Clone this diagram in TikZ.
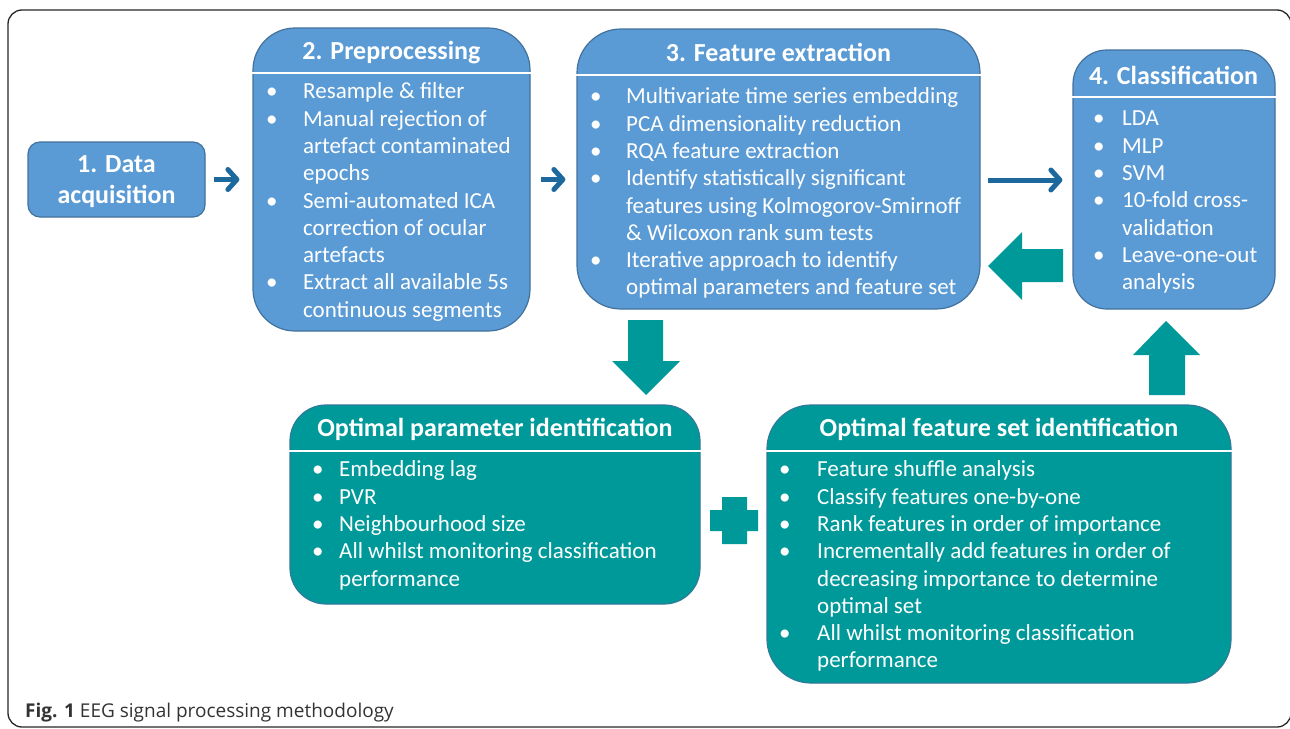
\documentclass[tikz,border=0pt]{standalone}
\usepackage{fontspec}
\setmainfont{Carlito}
\newfontfamily\capfont{Open Sans}
\usetikzlibrary{arrows.meta,calc}
\definecolor{boxblue}{HTML}{5B9BD5}
\definecolor{boxblueedge}{HTML}{41719C}
\definecolor{tealbox}{HTML}{009999}
\definecolor{tealedge}{HTML}{2F7A9A}
\definecolor{arrowblue}{HTML}{1D699E}
\newcommand\bodyfont{\fontsize{23}{27.3}\selectfont}
\newcommand\titlefont{\bfseries\fontsize{26}{31}\selectfont}
\begin{document}
\begin{tikzpicture}[x=1pt,y=-1pt,
  bluebox/.style={draw=boxblueedge,fill=boxblue,line width=1.2pt,inner sep=0pt},
  tealbox/.style={draw=tealedge,fill=tealbox,line width=1.2pt,inner sep=0pt},
  hline/.style={draw=white,line width=1.6pt},
  titletext/.style={text=white,font=\titlefont,inner sep=0pt,anchor=base},
  bodytext/.style={text=white,font=\bodyfont,inner sep=0pt,anchor=north west,align=left},
  smallarrow/.style={draw=arrowblue,line width=5pt,-{Straight Barb[length=9pt,width=20pt,line cap=round,line join=round]}},
  blockarrow/.style={fill=tealbox,draw=none}]
\useasboundingbox (0,0) rectangle (1290,728);
\draw[rounded corners=14pt,line width=1.3pt,black!85] (8,10) rectangle (1291,727);

% boxes
\node[bluebox,rounded corners=12pt,minimum width=177pt,minimum height=75pt] (acq) at (116.5,179.5) {};
\node[bluebox,rounded corners=42pt,minimum width=277pt,minimum height=303pt] (pre) at (391.5,179.5) {};
\node[bluebox,rounded corners=44pt,minimum width=403pt,minimum height=280pt] (feat) at (778.5,169) {};
\node[bluebox,rounded corners=34pt,minimum width=202pt,minimum height=259pt] (cls) at (1174,179.5) {};
\node[tealbox,rounded corners=36pt,minimum width=410pt,minimum height=199pt] (opt) at (495,504.5) {};
\node[tealbox,rounded corners=44pt,minimum width=464pt,minimum height=278pt] (fset) at (999,544) {};

% header lines
\draw[hline] (pre.west |- 0,73) -- (pre.east |- 0,73);
\draw[hline] (feat.west |- 0,75) -- (feat.east |- 0,75);
\draw[hline] (cls.west |- 0,97) -- (cls.east |- 0,97);
\draw[hline] (opt.west |- 0,451) -- (opt.east |- 0,451);
\draw[hline] (fset.west |- 0,451) -- (fset.east |- 0,451);

% titles
\node[titletext,align=center,anchor=center] (acqt) at (116.5,181.5) {1. Data\\acquisition};
\node[titletext] (pret) at (391.5,59) {2. Preprocessing};
\node[titletext] (featt) at (778.5,61) {3. Feature extraction};
\node[titletext] (clst) at (1173.5,84) {4. Classification};
\node[titletext] (optt) at (495,436) {Optimal parameter identification};
\node[titletext] (fsett) at (999,436) {Optimal feature set identification};

% bodies
\node[bodytext] (preb) at (266,79.5) {\begin{tabular}{@{}p{37pt}@{}l@{}}
\textbullet & Resample \& filter\\
\textbullet & Manual rejection of\\
 & artefact contaminated\\
 & epochs\\
\textbullet & Semi-automated ICA\\
 & correction of ocular\\
 & artefacts\\
\textbullet & Extract all available 5s\\
 & continuous segments
\end{tabular}};
\node[bodytext] (featb) at (590,84.5) {\begin{tabular}{@{}p{36pt}@{}l@{}}
\textbullet & Multivariate time series embedding\\
\textbullet & PCA dimensionality reduction\\
\textbullet & RQA feature extraction\\
\textbullet & Identify statistically significant\\
 & features using Kolmogorov-Smirnoff\\
 & \& Wilcoxon rank sum tests\\
\textbullet & Iterative approach to identify\\
 & optimal parameters and feature set
\end{tabular}};
\node[bodytext] (clsb) at (1093,106.5) {\begin{tabular}{@{}p{29pt}@{}l@{}}
\textbullet & LDA\\
\textbullet & MLP\\
\textbullet & SVM\\
\textbullet & 10-fold cross-\\
 & validation\\
\textbullet & Leave-one-out\\
 & analysis
\end{tabular}};
\node[bodytext] (optb) at (312,457.5) {\begin{tabular}{@{}p{27pt}@{}l@{}}
\textbullet & Embedding lag\\
\textbullet & PVR\\
\textbullet & Neighbourhood size\\
\textbullet & All whilst monitoring classification\\
 & performance
\end{tabular}};
\node[bodytext] (fsetb) at (779,457.5) {\begin{tabular}{@{}p{38pt}@{}l@{}}
\textbullet & Feature shuffle analysis\\
\textbullet & Classify features one-by-one\\
\textbullet & Rank features in order of importance\\
\textbullet & Incrementally add features in order of\\
 & decreasing importance to determine\\
 & optimal set\\
\textbullet & All whilst monitoring classification\\
 & performance
\end{tabular}};

% small connectors
\draw[smallarrow,shorten <=8pt,shorten >=13pt] (acq) -- (pre);
\draw[smallarrow,shorten <=10pt,shorten >=11pt] (pre.east) -- (pre.east -| feat.west);
\draw[smallarrow,shorten <=7pt,shorten >=10pt] (feat.east |- 0,180) -- (cls.west |- 0,180);

% block arrows
\fill[blockarrow] (1063,249) -- (1022,249) -- (1022,232) -- (988,266) -- (1022,300) -- (1022,282) -- (1063,282) -- cycle;
\fill[blockarrow] (628,320) -- (663,320) -- (663,361) -- (680,361) -- (646,395) -- (612,361) -- (628,361) -- cycle;
\fill[blockarrow] (1149,395) -- (1185,395) -- (1185,355) -- (1200,355) -- (1166,321) -- (1133,355) -- (1149,355) -- cycle;
\fill[blockarrow] (722,497) -- (747,497) -- (747,510) -- (758,510) -- (758,531) -- (747,531) -- (747,544) -- (722,544) -- (722,531) -- (710,531) -- (710,510) -- (722,510) -- cycle;

% caption
\node[anchor=base west,inner sep=0pt,font=\capfont\fontsize{19}{22}\selectfont,text=black!80] (cap) at (25,717) {\textbf{Fig. 1} EEG signal processing methodology};
\end{tikzpicture}
\end{document}
